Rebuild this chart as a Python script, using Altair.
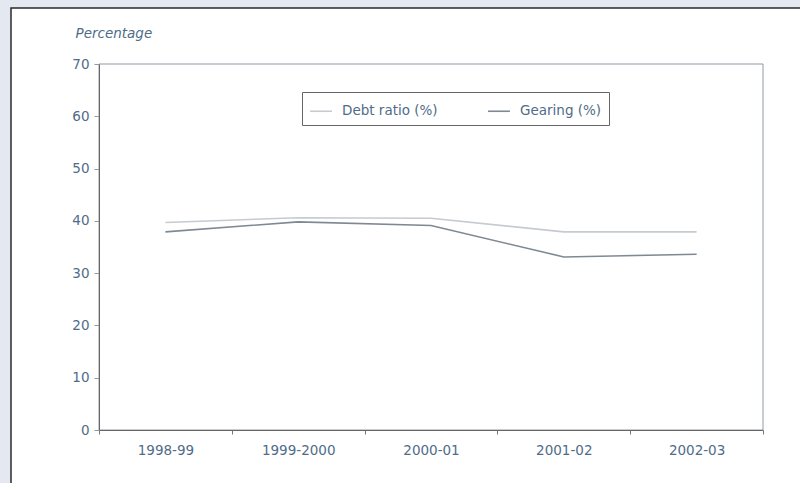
import altair as alt
import pandas as pd

years = ["1998-99", "1999-2000", "2000-01", "2001-02", "2002-03"]
debt_ratio = [39.7, 40.6, 40.5, 37.9, 37.9]
gearing = [37.9, 39.8, 39.1, 33.1, 33.6]
series_names = ["Debt ratio (%)", "Gearing (%)"]
series_colors = ["#c6cbd0", "#7f8993"]

rows = []
for name, vals in zip(series_names, [debt_ratio, gearing]):
    for y, v in zip(years, vals):
        rows.append({"Year": y, "Value": v, "Series": name})
df = pd.DataFrame(rows)

FONT = "DejaVu Sans"
TXT = "#4f6c88"
W, H = 664, 366

one = pd.DataFrame({"a": [0]})

panel = alt.Chart(one).mark_rect(
    fill="white", stroke="#2a2a2a", strokeWidth=1.5
).encode(
    x=alt.value(-88), x2=alt.value(720),
    y=alt.value(-56), y2=alt.value(440),
)

frame = alt.Chart(one).mark_rect(
    filled=False, stroke="#8f9aa5", strokeWidth=1
).encode(
    x=alt.value(0), x2=alt.value(W),
    y=alt.value(0), y2=alt.value(H),
)

lines = alt.Chart(df).mark_line(strokeWidth=1.6).encode(
    x=alt.X("Year:N", sort=years,
            scale=alt.Scale(paddingInner=0, paddingOuter=0),
            axis=alt.Axis(title=None, labelAngle=0, tickBand="extent",
                          labelFont=FONT, labelFontSize=13.5, labelColor=TXT,
                          domainColor="#666", tickColor="#777", tickSize=4,
                          labelPadding=9, zindex=1)),
    y=alt.Y("Value:Q",
            scale=alt.Scale(domain=[0, 70], nice=False),
            axis=alt.Axis(values=list(range(0, 71, 10)), grid=False,
                          title="Percentage", titleAngle=0, titleAlign="left",
                          titleBaseline="middle",
                          titleX=-24, titleY=-31, titleFont=FONT,
                          titleFontStyle="italic", titleFontWeight="normal",
                          titleFontSize=13.5, titleColor=TXT,
                          labelFont=FONT, labelFontSize=13.5, labelColor=TXT,
                          domainColor="#666", tickColor="#999", tickSize=5,
                          labelPadding=5, zindex=1)),
    color=alt.Color("Series:N",
                    scale=alt.Scale(domain=series_names, range=series_colors),
                    legend=alt.Legend(
                        title=None, orient="none", direction="horizontal",
                        legendX=203, legendY=28,
                        symbolType="stroke", symbolSize=480, symbolStrokeWidth=1.6,
                        labelFont=FONT, labelFontSize=13.5, labelColor=TXT,
                        columnPadding=46, labelOffset=9,
                        strokeColor="#666", padding=7,
                    )),
)

chart = alt.layer(panel, frame, lines).properties(
    width=W, height=H,
    autosize=alt.AutoSizeParams(type="none"),
    padding={"left": 99, "top": 64, "right": 37, "bottom": 53},
    background="#e4e9f1",
).configure_view(stroke=None)

chart.save("out.html", embed_options={"renderer": "svg", "actions": False})
